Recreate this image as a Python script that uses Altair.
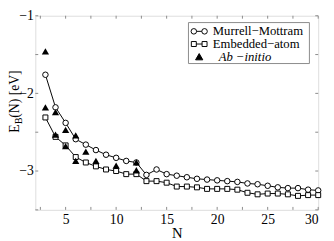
import altair as alt
import pandas as pd

# ---- data ----
N_mm = list(range(3, 31))
E_mm = [-1.76, -2.18, -2.38, -2.59, -2.66, -2.73, -2.79, -2.83, -2.87, -2.89,
        -3.05, -2.98, -3.04, -3.06, -3.08, -3.10, -3.11, -3.12, -3.13, -3.14,
        -3.16, -3.17, -3.19, -3.21, -3.22, -3.22, -3.24, -3.25]
N_ea = list(range(3, 31))
E_ea = [-2.31, -2.56, -2.67, -2.82, -2.89, -2.94, -2.98, -3.00, -3.04, -3.04,
        -3.13, -3.13, -3.15, -3.20, -3.20, -3.21, -3.23, -3.23, -3.23, -3.24,
        -3.28, -3.30, -3.29, -3.29, -3.30, -3.32, -3.31, -3.31]
N_ab = [3, 3, 4, 4, 5, 5, 6, 6, 7, 8, 10, 12, 12]
E_ab = [-1.46, -2.18, -2.24, -2.53, -2.47, -2.68, -2.54, -2.87, -2.75, -2.87,
        -2.93, -2.89, -2.99]

x_ticks_major = [5, 10, 15, 20, 25, 30]
x_ticks_all = [2.5 * i for i in range(1, 12)] + [30]
y_ticks_major = [-3, -2, -1]
y_ticks_all = [-3.5, -3.0, -2.5, -2.0, -1.5, -1.0]

legend_labels = ["Murrell\u2212Mottram", "Embedded\u2212atom", "Ab \u2212initio"]

FONT = "Liberation Serif"
GRAY = "#8a8a8a"
W, H = 290, 199

df_mm = pd.DataFrame({"N": N_mm, "E": E_mm})
df_ea = pd.DataFrame({"N": N_ea, "E": E_ea})
df_ab = pd.DataFrame({"N": N_ab, "E": E_ab})
df_xt = pd.DataFrame({"N": x_ticks_all})
df_yt = pd.DataFrame({"E": y_ticks_all})
one = pd.DataFrame({"a": [0]})

xs = alt.Scale(domain=[2, 30], nice=False, zero=False)
ys = alt.Scale(domain=[-3.5, -1], nice=False, zero=False)

xaxis = alt.Axis(values=x_ticks_major, ticks=False, domain=False, grid=False,
                 labelFont=FONT, labelFontSize=14, labelColor="black",
                 labelPadding=3, title="N", titleFont=FONT, titleFontSize=15,
                 titleFontWeight="normal", titleColor="black", titlePadding=-1)
yaxis = alt.Axis(values=y_ticks_major, ticks=False, domain=False, grid=False,
                 labelFont=FONT, labelFontSize=14, labelColor="black",
                 labelPadding=2, title=None)

X = alt.X("N:Q", scale=xs, axis=xaxis)
Y = alt.Y("E:Q", scale=ys, axis=yaxis)

line_mm = alt.Chart(df_mm).mark_line(color="black", strokeWidth=1).encode(x=X, y=Y)
pts_mm = alt.Chart(df_mm).mark_point(shape="circle", filled=True, fill="white",
                                     stroke="black", strokeWidth=1, size=32, opacity=1
                                     ).encode(x=X, y=Y)
line_ea = alt.Chart(df_ea).mark_line(color="black", strokeWidth=1).encode(x=X, y=Y)
pts_ea = alt.Chart(df_ea).mark_point(shape="square", filled=True, fill="white",
                                     stroke="black", strokeWidth=1, size=26, opacity=1
                                     ).encode(x=X, y=Y)
pts_ab = alt.Chart(df_ab).mark_point(shape="triangle-up", filled=True, color="black",
                                     size=55, opacity=1).encode(x=X, y=Y)

# inside ticks
xt_bot = alt.Chart(df_xt).mark_rule(color=GRAY, strokeWidth=1).encode(
    x=X, y=alt.value(H), y2=alt.value(H - 3))
xt_top = alt.Chart(df_xt).mark_rule(color=GRAY, strokeWidth=1).encode(
    x=X, y=alt.value(0), y2=alt.value(3))
yt_left = alt.Chart(df_yt).mark_rule(color=GRAY, strokeWidth=1).encode(
    y=Y, x=alt.value(0), x2=alt.value(3))
yt_right = alt.Chart(df_yt).mark_rule(color=GRAY, strokeWidth=1).encode(
    y=Y, x=alt.value(W), x2=alt.value(W - 3))


def txt(s, x, y, size=16, style="normal", angle=0, align="left"):
    return alt.Chart(pd.DataFrame({"t": [s]})).mark_text(
        font=FONT, fontSize=size, fontStyle=style, angle=angle, align=align,
        baseline="middle", color="black"
    ).encode(text="t:N", x=alt.value(x), y=alt.value(y))


# y-axis title with subscript (reads bottom to top)
yt_E = txt("E", -20.5, 120, 14, angle=270)
yt_B = txt("B", -17, 111, 10, angle=270)
yt_rest = txt("(N) [eV]", -20.5, 104.5, 14, angle=270)

# legend
lg_box = alt.Chart(one).mark_rect(fill="white", stroke=GRAY, strokeWidth=1).encode(
    x=alt.value(157), x2=alt.value(281), y=alt.value(7), y2=alt.value(49))


def lg_line(y):
    return alt.Chart(one).mark_rule(color="black", strokeWidth=1).encode(
        x=alt.value(161), x2=alt.value(175), y=alt.value(y))


def lg_sym(shape, x, y, size, fill="white"):
    return alt.Chart(one).mark_point(shape=shape, filled=True, fill=fill, stroke="black",
                                     strokeWidth=1, size=size, opacity=1
                                     ).encode(x=alt.value(x), y=alt.value(y))


legend = [
    lg_box,
    lg_line(16), lg_sym("circle", 162.5, 16, 32), lg_sym("circle", 173.5, 16, 32),
    lg_line(29), lg_sym("square", 162.5, 29, 26), lg_sym("square", 173.5, 29, 26),
    lg_sym("triangle-up", 168, 42, 55, fill="black"),
    txt(legend_labels[0], 182, 16, 13),
    txt(legend_labels[1], 182, 29, 13),
    txt(legend_labels[2], 188, 42, 13, style="italic"),
]

chart = alt.layer(
    line_mm, xt_bot, xt_top, yt_left, yt_right,
    line_ea, pts_mm, pts_ea, pts_ab,
    *legend,
    yt_E, yt_B, yt_rest,
).properties(
    width=W, height=H,
    autosize=alt.AutoSizeParams(type="none"),
    padding={"left": 28, "top": 5, "right": 8, "bottom": 29},
).configure_view(stroke=GRAY, strokeWidth=1).configure(background="white")

chart.save("out.html", embed_options={"renderer": "svg", "actions": False})
